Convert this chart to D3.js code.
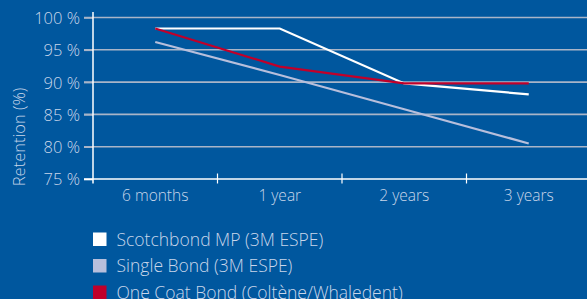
<!DOCTYPE html>
<html><head><meta charset="utf-8">
<script src="https://cdn.jsdelivr.net/npm/d3@7"></script>
<style>
html,body{margin:0;padding:0;background:#00579e;}
svg{display:block;}
text{font-family:"Open Sans",sans-serif;font-weight:300;fill:#c9d6ea;}
</style></head><body>
<script>
const categories = ["6 months","1 year","2 years","3 years"];
const scotchbond = [98.3, 98.3, 89.8, 88.1];
const singleBond = [96.2, 91.1, 85.8, 80.5];
const oneCoat = [98.3, 92.4, 89.8, 89.8];
const yTicks = [75,80,85,90,95,100];
const seriesNames = ["Scotchbond MP (3M ESPE)","Single Bond (3M ESPE)","One Coat Bond (Coltène/Whaledent)"];
const seriesColors = ["#ffffff","#b7bfdc","#c0002a"];

const W=587,H=299;
const svg=d3.select("body").append("svg").attr("width",W).attr("height",H);
svg.append("rect").attr("width",W).attr("height",H).attr("fill","#00579e");

const x=d3.scaleBand().domain(categories).range([93,591]);
const y=d3.scaleLinear().domain([75,100]).range([179,17.5]);

// gridlines
svg.append("g").selectAll("line").data(yTicks.filter(d=>d>75)).join("line")
  .attr("x1",84).attr("x2",W).attr("y1",d=>y(d)).attr("y2",d=>y(d))
  .attr("stroke","#a9b5c8").attr("stroke-width",1.6);

// y axis
const yAxis=d3.axisLeft(y).tickValues(yTicks).tickSize(9).tickPadding(4).tickFormat(d=>d+" %");
const gy=svg.append("g").attr("transform","translate(93,0)").call(yAxis);
gy.select(".domain").remove();
gy.selectAll(".tick line").attr("stroke",(d)=>d===75?"#ffffff":"#a9b5c8").attr("stroke-width",1.6);
gy.selectAll(".tick text").attr("font-size","16.5px").attr("fill","#c9d6ea").attr("dy","0.36em").attr("font-family",null);
svg.append("line").attr("x1",93).attr("x2",93).attr("y1",12).attr("y2",183.5).attr("stroke","#fff").attr("stroke-width",1.5);

// x axis
svg.append("line").attr("x1",84).attr("x2",W).attr("y1",179).attr("y2",179).attr("stroke","#fff").attr("stroke-width",1.5);
const xt=[1,2,3].map(i=>x(categories[i]));
svg.append("g").selectAll("line").data(xt).join("line")
  .attr("x1",d=>d).attr("x2",d=>d).attr("y1",173.5).attr("y2",183.5).attr("stroke","#fff").attr("stroke-width",1.2);
svg.append("g").selectAll("text").data(categories).join("text")
  .attr("x",d=>x(d)+x.bandwidth()/2).attr("y",201).attr("text-anchor","middle")
  .attr("font-size","15.5px").text(d=>d);

// y title
svg.append("text").attr("transform","translate(25,137) rotate(-90)").attr("text-anchor","middle")
  .attr("font-size","16.5px").text("Retention (%)");

// lines
const line=d3.line().x((d,i)=>x(categories[i])+x.bandwidth()/2).y(d=>y(d));
const data=[singleBond,scotchbond,oneCoat];
const cols=[seriesColors[1],seriesColors[0],seriesColors[2]];
svg.append("g").selectAll("path").data(data).join("path")
  .attr("d",d=>line(d)).attr("fill","none").attr("stroke",(d,i)=>cols[i]).attr("stroke-width",2.2);

// legend
const lg=svg.append("g").selectAll("g").data(seriesNames).join("g")
  .attr("transform",(d,i)=>`translate(93,${232.5+i*26.5})`);
lg.append("rect").attr("width",13.5).attr("height",13.5).attr("fill",(d,i)=>seriesColors[i]);
lg.append("text").attr("x",23.5).attr("y",7).attr("dy","0.36em").attr("font-size","17.5px").text(d=>d);
</script>
</body></html>
